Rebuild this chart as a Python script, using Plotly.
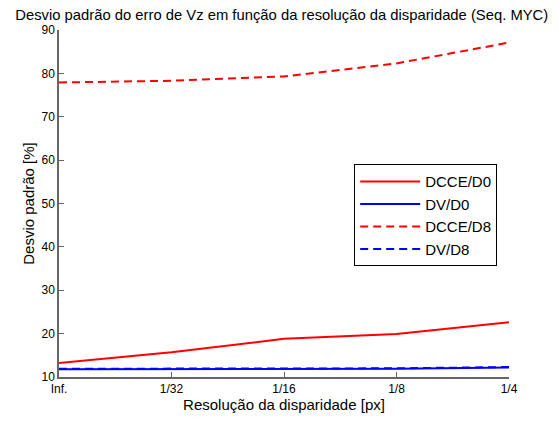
import plotly.graph_objects as go

categories = ["Inf.", "1/32", "1/16", "1/8", "1/4"]
dcce_d0 = [13.2, 15.7, 18.8, 19.9, 22.6]
dv_d0 = [11.8, 11.8, 11.8, 11.9, 12.2]
dcce_d8 = [77.9, 78.3, 79.3, 82.3, 87.1]
dv_d8 = [11.9, 11.9, 11.9, 12.0, 12.3]
y_ticks = [10, 20, 30, 40, 50, 60, 70, 80, 90]

FONT = "Liberation Sans, Arial, Helvetica, sans-serif"

fig = go.Figure()
series = [
    ("DCCE/D0", dcce_d0, "#ff0000", "solid"),
    ("DV/D0", dv_d0, "#0000ff", "solid"),
    ("DCCE/D8", dcce_d8, "#ff0000", "8px,5px"),
    ("DV/D8", dv_d8, "#0000ff", "8px,5px"),
]
for name, vals, col, dash in series:
    fig.add_trace(go.Scatter(
        x=list(range(len(categories))), y=vals, name=name, mode="lines",
        line=dict(color=col, width=2, dash=dash),
    ))

fig.update_layout(
    width=559, height=421,
    margin=dict(l=59, r=50, t=30, b=37),
    paper_bgcolor="white", plot_bgcolor="white",
    font=dict(family=FONT, color="black", size=12),
    title=dict(text="Desvio padrão do erro de Vz em função da resolução da disparidade (Seq. MYC)",
               x=0.504, xref="container", xanchor="center",
               y=0.964, yref="container", yanchor="middle",
               font=dict(size=14.8)),
    xaxis=dict(
        range=[0, 4], tickmode="array", tickvals=list(range(len(categories))),
        ticktext=categories, showgrid=False, zeroline=False,
        showline=True, linecolor="#666666", linewidth=1.5,
        ticks="inside", ticklen=5, tickcolor="#666666",
        title=dict(text="Resolução da disparidade [px]", font=dict(size=15), standoff=2),
    ),
    yaxis=dict(
        range=[10, 90], tickmode="array", tickvals=y_ticks,
        showgrid=False, zeroline=False,
        showline=True, linecolor="#666666", linewidth=1.5,
        ticks="inside", ticklen=5, tickcolor="#666666",
        title=dict(text="Desvio padrão [%]", font=dict(size=15), standoff=3),
    ),
    legend=dict(
        x=0.656, y=0.613, xanchor="left", yanchor="top",
        bgcolor="white", bordercolor="black", borderwidth=1,
        font=dict(size=15), tracegroupgap=0, itemwidth=60,
    ),
)

fig.write_html(
    "out.html",
    config={"displayModeBar": False},
    post_script="document.body.style.margin='0px';document.body.style.padding='0px';",
)
